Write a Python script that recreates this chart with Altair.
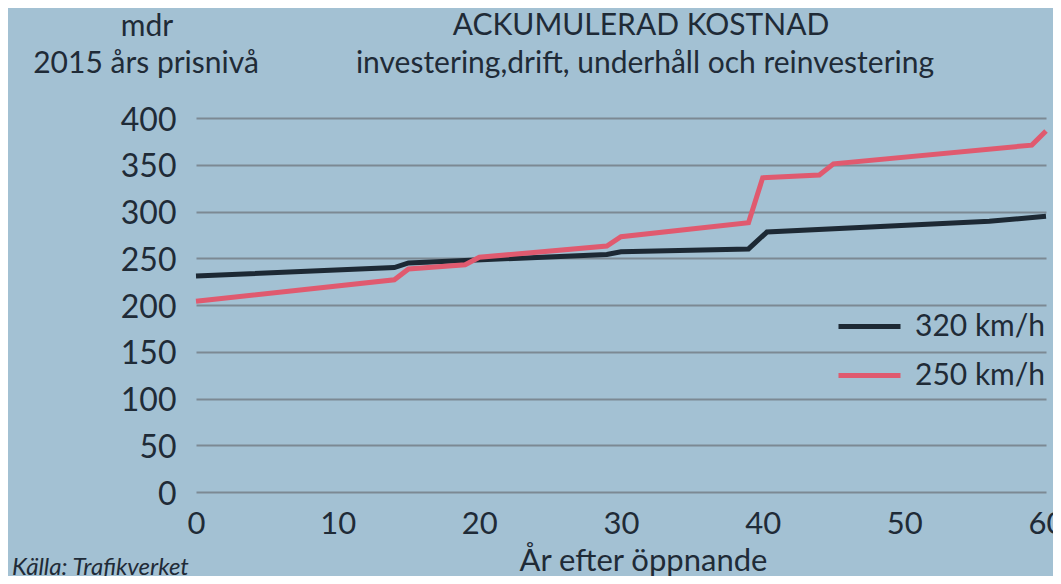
import altair as alt
import pandas as pd

# ---- data ----
years_320 = [0, 14, 15, 29, 30, 39, 40.3, 56, 60]
cost_320 = [231, 240, 245, 254, 257, 260, 278, 289.5, 295]

years_250 = [0, 14, 15, 19, 20, 29, 30, 39, 40, 44, 45, 59, 60]
cost_250 = [204, 227, 238.5, 243, 251, 263, 273, 288, 336, 339, 351, 371, 386]

series_names = ["320 km/h", "250 km/h"]
series_colors = ["#1d2934", "#e05a6f"]

x_ticks = [0, 10, 20, 30, 40, 50, 60]
y_ticks = [0, 50, 100, 150, 200, 250, 300, 350, 400]

rows = []
for i, (x, y) in enumerate(zip(years_320, cost_320)):
    rows.append({"ar": x, "kostnad": y, "serie": series_names[0], "ord": 0, "i": i})
for i, (x, y) in enumerate(zip(years_250, cost_250)):
    rows.append({"ar": x, "kostnad": y, "serie": series_names[1], "ord": 1, "i": i})
df = pd.DataFrame(rows)

FONT = "Lato"
TXT = "#1f2b37"
BG = "#a3c1d3"

W, H = 850, 374

lines = alt.Chart(df).mark_line(strokeWidth=5, strokeJoin="miter", strokeCap="butt").encode(
    x=alt.X("ar:Q", scale=alt.Scale(domain=[0, 60], nice=False, zero=False),
            axis=alt.Axis(values=x_ticks, title="År efter öppnande", grid=False, domain=False,
                          ticks=False, labelFontSize=31, labelPadding=17, labelColor=TXT,
                          labelFont=FONT, titleFont=FONT, titleFontSize=31,
                          titleFontWeight="normal", titleColor=TXT,
                          titleBaseline="alphabetic", titleAlign="center",
                          titleX=447, titleY=78, labelFlush=False)),
    y=alt.Y("kostnad:Q", scale=alt.Scale(domain=[0, 400], nice=False),
            axis=alt.Axis(values=y_ticks, title=None, grid=True, gridColor="#7c8993",
                          gridWidth=2, gridOpacity=1, domain=False, ticks=False,
                          labelFontSize=32, labelPadding=20, labelOffset=2,
                          labelColor=TXT, labelFont=FONT)),
    color=alt.Color("serie:N", scale=alt.Scale(domain=series_names, range=series_colors),
                    legend=alt.Legend(title=None, orient="none", legendX=640, legendY=175,
                                      symbolType="stroke", symbolStrokeWidth=5,
                                      symbolSize=3844, labelFontSize=30, labelFont=FONT,
                                      labelColor=TXT, labelOffset=12, rowPadding=0,
                                      labelLimit=300)),
    order="i:Q",
    detail="ord:Q",
)


def label(text, x, y, size=30, align="center", style="normal"):
    return alt.Chart(pd.DataFrame({"d": [0]})).mark_text(
        text=text, font=FONT, fontSize=size, color=TXT, align=align,
        baseline="alphabetic", fontStyle=style,
    ).encode(x=alt.value(x), y=alt.value(y))


chart = alt.layer(
    lines,
    label("mdr", -49, -82),
    label("2015 års prisnivå", -50, -45),
    label("ACKUMULERAD KOSTNAD", 445, -83),
    label("investering,drift, underhåll och reinvestering", 449, -45),
    label("Källa: Trafikverket", -184, 457, size=24, align="left", style="italic"),
).properties(
    width=W, height=H, background=BG,
    padding={"left": 188, "top": 110, "right": 7, "bottom": 84},
    autosize=alt.AutoSizeParams(type="none"),
).configure_view(stroke=None)

chart.save("out.html", embed_options={"renderer": "svg", "actions": False})
